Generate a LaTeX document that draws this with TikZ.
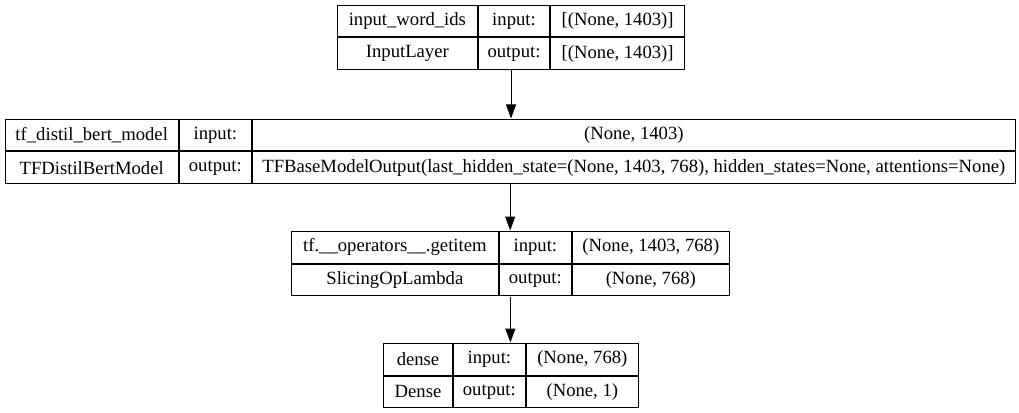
\documentclass[tikz,border=0pt]{standalone}
\usepackage{fontspec}
\setmainfont{Liberation Serif}
\usetikzlibrary{arrows.meta, positioning, fit}
\tikzset{
  every picture/.style={line width=0.75pt},
  cell/.style={draw, minimum width=#1*0.75pt, minimum height=31.5*0.75pt, inner sep=0pt, font=\fontsize{14pt}{16pt}\selectfont},
  rec/.style={fit=#1, inner sep=0pt},
  arrow/.style={-{Triangle[length=10.5pt, width=7.5pt]}},
}

\begin{document}
\begin{tikzpicture}[x=0.75pt, y=-0.75pt]
  \fill[white] (0,0) rectangle (1019,413);
  \useasboundingbox (0,0) rectangle (1019,413);
  % input layer
  \node[cell=139.7, anchor=north west] (ids_name) at (337,5) {input\_word\_ids};
  \node[cell=71.6, right=0pt of ids_name] (ids_inl) {input:};
  \node[cell=133.7, right=0pt of ids_inl] (ids_in) {[(None, 1403)]};
  \node[cell=139.7, below=0pt of ids_name] (ids_type) {InputLayer};
  \node[cell=71.6, below=0pt of ids_inl] (ids_outl) {output:};
  \node[cell=133.7, below=0pt of ids_in] (ids_out) {[(None, 1403)]};
  \node[rec=(ids_name)(ids_out)] (ids) {};
  % distilbert
  \node[cell=173, anchor=north west] (bert_name) at (4.7,119) {tf\_distil\_bert\_model};
  \node[cell=72.3, right=0pt of bert_name] (bert_inl) {input:};
  \node[cell=762.7, right=0pt of bert_inl] (bert_in) {(None, 1403)};
  \node[cell=173, below=0pt of bert_name] (bert_type) {TFDistilBertModel};
  \node[cell=72.3, below=0pt of bert_inl] (bert_outl) {output:};
  \node[cell=762.7, below=0pt of bert_in] (bert_out) {TFBaseModelOutput(last\_hidden\_state=(None, 1403, 768), hidden\_states=None, attentions=None)};
  \node[rec=(bert_name)(bert_out)] (bert) {};
  % slicing
  \node[cell=206.7, anchor=north west] (get_name) at (291,231) {tf.\_\_operators\_\_.getitem};
  \node[cell=72.3, right=0pt of get_name] (get_inl) {input:};
  \node[cell=156.7, right=0pt of get_inl] (get_in) {(None, 1403, 768)};
  \node[cell=206.7, below=0pt of get_name] (get_type) {SlicingOpLambda};
  \node[cell=72.3, below=0pt of get_inl] (get_outl) {output:};
  \node[cell=156.7, below=0pt of get_in] (get_out) {(None, 768)};
  \node[rec=(get_name)(get_out)] (get) {};
  % dense
  \node[cell=68.4, anchor=north west] (dense_name) at (383.3,343) {dense};
  \node[cell=72.3, right=0pt of dense_name] (dense_inl) {input:};
  \node[cell=111.7, right=0pt of dense_inl] (dense_in) {(None, 768)};
  \node[cell=68.4, below=0pt of dense_name] (dense_type) {Dense};
  \node[cell=72.3, below=0pt of dense_inl] (dense_outl) {output:};
  \node[cell=111.7, below=0pt of dense_in] (dense_out) {(None, 1)};
  \node[rec=(dense_name)(dense_out)] (dense) {};
  % edges
  \draw[arrow] (ids.south) -- (ids.south |- bert.north);
  \draw[arrow] (bert.south) -- (bert.south |- get.north);
  \draw[arrow] (get.south) -- (get.south |- dense.north);
\end{tikzpicture}
\end{document}
